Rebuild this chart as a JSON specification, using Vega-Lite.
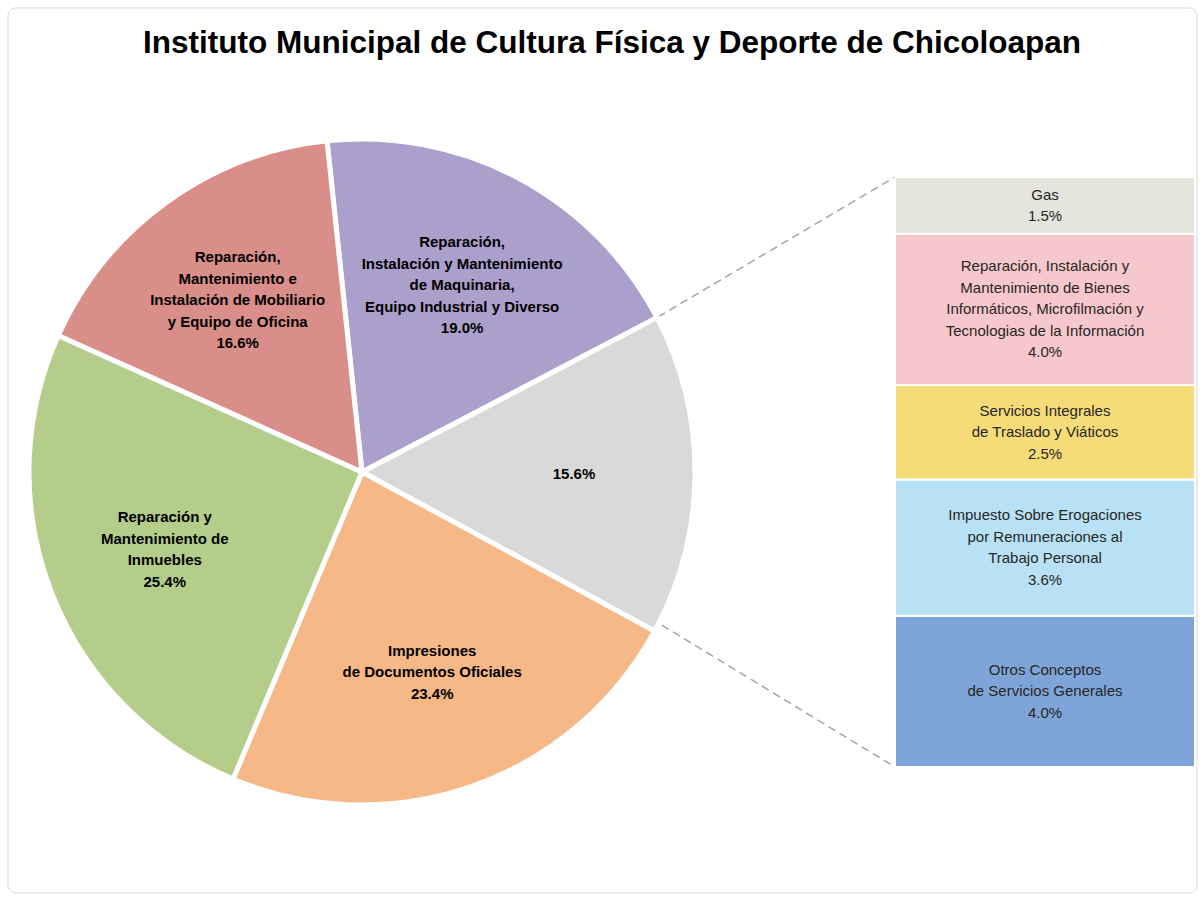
{
  "$schema": "https://vega.github.io/schema/vega-lite/v6.json",
  "width": 1204,
  "height": 821,
  "autosize": "none",
  "padding": {"top": 80, "left": 0, "right": 0, "bottom": 0},
  "background": "#ffffff",
  "title": {
    "text": "Instituto Municipal de Cultura Física y Deporte de Chicoloapan",
    "font": "Liberation Sans",
    "fontSize": 31.5,
    "fontWeight": "bold",
    "color": "#000000",
    "anchor": "middle",
    "frame": "group",
    "baseline": "alphabetic",
    "offset": -77,
    "dx": 10
  },
  "datasets": {
    "pastel": [
      {"concepto": "Reparación, Instalación y Mantenimiento de Maquinaria, Equipo Industrial y Diverso", "valor": 19.0, "orden": 1, "etiqueta": "Reparación,\nInstalación y Mantenimiento\nde Maquinaria,\nEquipo Industrial y Diverso\n19.0%"},
      {"concepto": "Otros", "valor": 15.6, "orden": 2, "etiqueta": "15.6%"},
      {"concepto": "Impresiones de Documentos Oficiales", "valor": 23.4, "orden": 3, "etiqueta": "Impresiones\nde Documentos Oficiales\n23.4%"},
      {"concepto": "Reparación y Mantenimiento de Inmuebles", "valor": 25.4, "orden": 4, "etiqueta": "Reparación y\nMantenimiento de\nInmuebles\n25.4%"},
      {"concepto": "Reparación, Mantenimiento e Instalación de Mobiliario y Equipo de Oficina", "valor": 16.6, "orden": 5, "etiqueta": "Reparación,\nMantenimiento e\nInstalación de Mobiliario\ny Equipo de Oficina\n16.6%"}
    ],
    "barra": [
      {"concepto": "Otros Conceptos de Servicios Generales", "valor": 4.0, "orden": 1, "etiqueta": "Otros Conceptos\nde Servicios Generales\n4.0%"},
      {"concepto": "Impuesto Sobre Erogaciones por Remuneraciones al Trabajo Personal", "valor": 3.6, "orden": 2, "etiqueta": "Impuesto Sobre Erogaciones\npor Remuneraciones al\nTrabajo Personal\n3.6%"},
      {"concepto": "Servicios Integrales de Traslado y Viáticos", "valor": 2.5, "orden": 3, "etiqueta": "Servicios Integrales\nde Traslado y Viáticos\n2.5%"},
      {"concepto": "Reparación, Instalación y Mantenimiento de Bienes Informáticos, Microfilmación y Tecnologias de la Información", "valor": 4.0, "orden": 4, "etiqueta": "Reparación, Instalación y\nMantenimiento de Bienes\nInformáticos, Microfilmación y\nTecnologias de la Información\n4.0%"},
      {"concepto": "Gas", "valor": 1.5, "orden": 5, "etiqueta": "Gas\n1.5%"}
    ]
  },
  "layer": [
    {
      "data": {"values": [{}]},
      "mark": {"type": "rect", "fill": null, "stroke": "#d9d9d9", "strokeWidth": 1, "cornerRadius": 8},
      "encoding": {
        "x": {"datum": 0.2115, "type": "quantitative", "scale": {"domain": [0, 31.834], "nice": false, "zero": false}, "axis": null},
        "y": {"datum": 20.07, "type": "quantitative", "scale": {"domain": [-3.5428, 18.1647], "nice": false, "zero": false}, "axis": null},
        "x2": {"datum": 31.649},
        "y2": {"datum": -3.33}
      }
    },
    {
      "data": {"values": [{}]},
      "mark": {"type": "rule", "stroke": "#a6a6a6", "strokeWidth": 1.5, "strokeDash": [8, 5]},
      "encoding": {
        "x": {"datum": 17.4, "type": "quantitative", "axis": null},
        "y": {"datum": 11.9, "type": "quantitative", "axis": null},
        "x2": {"datum": 23.664},
        "y2": {"datum": 15.6}
      }
    },
    {
      "data": {"values": [{}]},
      "mark": {"type": "rule", "stroke": "#a6a6a6", "strokeWidth": 1.5, "strokeDash": [8, 5]},
      "encoding": {
        "x": {"datum": 17.5, "type": "quantitative", "axis": null},
        "y": {"datum": 3.75, "type": "quantitative", "axis": null},
        "x2": {"datum": 23.664},
        "y2": {"datum": 0}
      }
    },
    {
      "data": {"name": "pastel"},
      "mark": {"type": "arc", "outerRadius": 333, "stroke": "#ffffff", "strokeWidth": 5},
      "encoding": {
        "x": {"datum": 9.571, "type": "quantitative", "axis": null},
        "y": {"datum": 7.8, "type": "quantitative", "axis": null},
        "theta": {"field": "valor", "type": "quantitative", "stack": true, "scale": {"range": [-0.105, 6.178]}},
        "order": {"field": "orden", "type": "quantitative"},
        "color": {
          "field": "concepto",
          "type": "nominal",
          "legend": null,
          "scale": {
            "domain": [
              "Reparación, Instalación y Mantenimiento de Maquinaria, Equipo Industrial y Diverso",
              "Otros",
              "Impresiones de Documentos Oficiales",
              "Reparación y Mantenimiento de Inmuebles",
              "Reparación, Mantenimiento e Instalación de Mobiliario y Equipo de Oficina",
              "Otros Conceptos de Servicios Generales",
              "Impuesto Sobre Erogaciones por Remuneraciones al Trabajo Personal",
              "Servicios Integrales de Traslado y Viáticos",
              "Reparación, Instalación y Mantenimiento de Bienes Informáticos, Microfilmación y Tecnologias de la Información",
              "Gas"
            ],
            "range": ["#ab9fcb", "#d9d9d9", "#f6b886", "#b4cd8a", "#d98e8a", "#7fa5d8", "#b8e1f5", "#f5dc78", "#f7c8cb", "#e5e4dd"]
          }
        }
      }
    },
    {
      "data": {"name": "pastel"},
      "mark": {"type": "text", "radius": 212, "lineBreak": "\n", "font": "Liberation Sans", "fontSize": 15, "fontWeight": "bold", "lineHeight": 21.5, "align": "center", "baseline": "middle", "color": "#000000", "dy": {"expr": "-(length(split(datum.etiqueta, '\\n')) - 1) * 10.75"}},
      "encoding": {
        "x": {"datum": 9.571, "type": "quantitative", "axis": null},
        "y": {"datum": 7.8, "type": "quantitative", "axis": null},
        "theta": {"field": "valor", "type": "quantitative", "stack": true},
        "order": {"field": "orden", "type": "quantitative"},
        "text": {"field": "etiqueta", "type": "nominal"}
      }
    },
    {
      "data": {"name": "barra"},
      "transform": [
        {"stack": "valor", "groupby": [], "sort": [{"field": "orden", "order": "ascending"}], "as": ["v0", "v1"]}
      ],
      "mark": {"type": "rect", "stroke": "#ffffff", "strokeWidth": 2},
      "encoding": {
        "x": {"datum": 23.664, "type": "quantitative", "axis": null},
        "x2": {"datum": 31.596},
        "y": {"field": "v0", "type": "quantitative", "axis": null},
        "y2": {"field": "v1"},
        "color": {"field": "concepto", "type": "nominal", "legend": null}
      }
    },
    {
      "data": {"name": "barra"},
      "transform": [
        {"stack": "valor", "groupby": [], "sort": [{"field": "orden", "order": "ascending"}], "as": ["v0", "v1"]},
        {"fold": ["v0", "v1"], "as": ["extremo", "posicion"]},
        {"aggregate": [{"op": "mean", "field": "posicion", "as": "centro"}], "groupby": ["concepto", "etiqueta"]}
      ],
      "mark": {"type": "text", "lineBreak": "\n", "font": "Liberation Sans", "fontSize": 15, "lineHeight": 21.5, "align": "center", "baseline": "middle", "color": "#262626", "dy": {"expr": "-(length(split(datum.etiqueta, '\\n')) - 1) * 10.75"}},
      "encoding": {
        "x": {"datum": 27.63, "type": "quantitative", "axis": null},
        "y": {"field": "centro", "type": "quantitative", "axis": null},
        "text": {"field": "etiqueta", "type": "nominal"}
      }
    }
  ],
  "config": {
    "view": {"stroke": null},
    "axis": {"disable": true}
  }
}
